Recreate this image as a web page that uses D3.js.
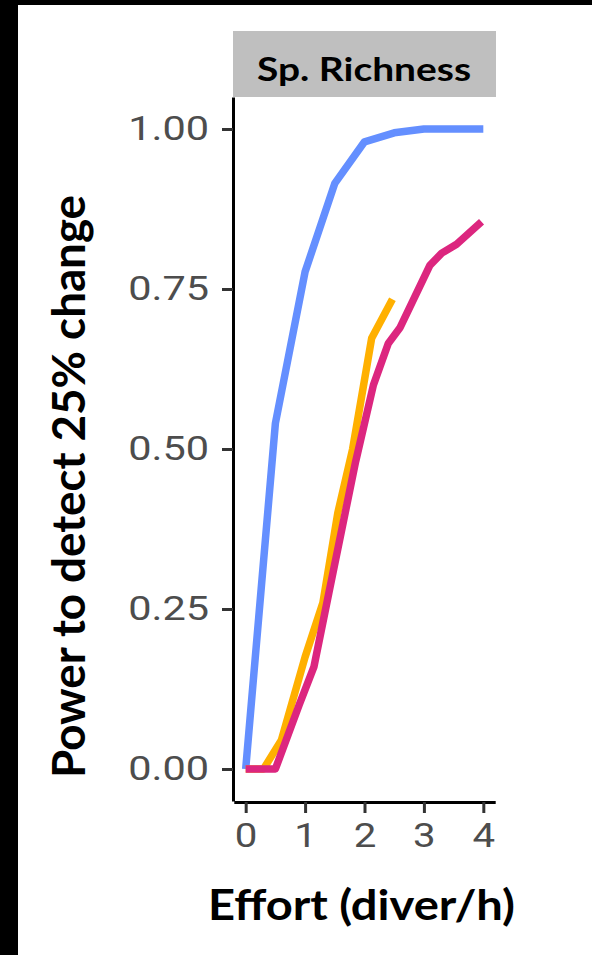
<!DOCTYPE html>
<html>
<head>
<meta charset="utf-8">
<script src="https://cdn.jsdelivr.net/npm/d3@7/dist/d3.min.js"></script>
<style>
  html, body { margin: 0; padding: 0; background: #fff; }
  svg { display: block; }
</style>
</head>
<body>
<script>
// Power curves for species richness by survey effort
const effortBlue   = [0, 0.5, 1, 1.5, 2, 2.5, 3, 3.5, 4];
const powerBlue    = [0, 0.54, 0.777, 0.915, 0.98, 0.994, 1, 1, 1];
const effortOrange = [0, 0.3, 0.6, 1.0, 1.3, 1.55, 1.8, 2.12, 2.47];
const powerOrange  = [0, 0, 0.045, 0.175, 0.26, 0.40, 0.50, 0.673, 0.734];
const effortPink   = [0, 0.5, 0.9, 1.15, 1.4, 1.85, 2.15, 2.4, 2.6, 3.1, 3.3, 3.55, 3.97];
const powerPink    = [0, 0, 0.10, 0.16, 0.275, 0.48, 0.60, 0.665, 0.69, 0.787, 0.806, 0.82, 0.855];
const xTicks = [0, 1, 2, 3, 4];
const yTicks = [0, 0.25, 0.5, 0.75, 1];
const panelTitle = "Sp. Richness";
const xTitle = "Effort (diver/h)";
const yTitle = "Power to detect 25% change";

const W = 592, H = 955;
const svg = d3.select("body").append("svg").attr("width", W).attr("height", H);

// outer frame edges
svg.append("rect").attr("x", 0).attr("y", 0).attr("width", W).attr("height", 5).attr("fill", "#000");
svg.append("rect").attr("x", 0).attr("y", 0).attr("width", 18).attr("height", H).attr("fill", "#000");

const x = d3.scaleLinear().domain([-0.2, 4.2]).range([233.8, 495.2]);
const y = d3.scaleLinear().domain([-0.05, 1.05]).range([801, 97]);

const stretch = 1.22;

// strip header
svg.append("rect")
  .attr("x", 233).attr("y", 31).attr("width", 263).attr("height", 66)
  .attr("fill", "#bfbfbf");
svg.append("text")
  .attr("x", 364).attr("y", 81)
  .attr("text-anchor", "middle")
  .attr("font-family", "Lato, 'Open Sans', sans-serif")
  .attr("font-weight", "bold").attr("font-size", 33)
  .attr("textLength", 214).attr("lengthAdjust", "spacingAndGlyphs")
  .attr("fill", "#000")
  .text(panelTitle);

// lines
const series = [
  { xs: effortBlue, ys: powerBlue, color: "#648FFF" },
  { xs: effortOrange, ys: powerOrange, color: "#FFB000" },
  { xs: effortPink, ys: powerPink, color: "#DC267F" }
];
const line = d3.line().x(d => x(d[0])).y(d => y(d[1]));
series.forEach(s => {
  svg.append("path")
    .datum(s.xs.map((v, i) => [v, s.ys[i]]))
    .attr("d", line)
    .attr("fill", "none")
    .attr("stroke", s.color)
    .attr("stroke-width", 7.5)
    .attr("stroke-linejoin", "round")
    .attr("stroke-linecap", "butt");
});

// y axis
const gy = svg.append("g").attr("transform", "translate(233,0)")
  .call(d3.axisLeft(y).tickValues(yTicks).tickFormat(d3.format(".2f"))
    .tickSize(11).tickSizeOuter(0).tickPadding(13));
gy.select(".domain").attr("stroke", "#000").attr("stroke-width", 3);
gy.selectAll(".tick line").attr("stroke", "#333").attr("stroke-width", 3);
gy.selectAll(".tick text")
  .attr("font-family", "Roboto, sans-serif").attr("font-size", 34)
  .attr("fill", "#4d4d4d")
  .attr("x", -24 / stretch)
  .attr("transform", `scale(${stretch},1)`);

// x axis
const gx = svg.append("g").attr("transform", "translate(0,802)")
  .call(d3.axisBottom(x).tickValues(xTicks).tickFormat(d3.format("d"))
    .tickSize(11).tickSizeOuter(0).tickPadding(11));
gx.select(".domain").attr("stroke", "#000").attr("stroke-width", 3);
gx.selectAll(".tick line").attr("stroke", "#333").attr("stroke-width", 3);
gx.selectAll(".tick text")
  .attr("font-family", "Roboto, sans-serif").attr("font-size", 33)
  .attr("fill", "#4d4d4d")
  .attr("transform", `scale(${stretch},1)`);

// axis titles
svg.append("text")
  .attr("x", 361.5).attr("y", 920)
  .attr("text-anchor", "middle")
  .attr("font-family", "Lato, 'Open Sans', sans-serif")
  .attr("font-weight", "bold").attr("font-size", 42)
  .attr("textLength", 307).attr("lengthAdjust", "spacingAndGlyphs")
  .attr("fill", "#000")
  .text(xTitle);

svg.append("text")
  .attr("transform", "translate(85,486.5) rotate(-90)")
  .attr("text-anchor", "middle")
  .attr("font-family", "Lato, 'Open Sans', sans-serif")
  .attr("font-weight", "bold").attr("font-size", 45)
  .attr("textLength", 583).attr("lengthAdjust", "spacingAndGlyphs")
  .attr("fill", "#000")
  .text(yTitle);
</script>
</body>
</html>
